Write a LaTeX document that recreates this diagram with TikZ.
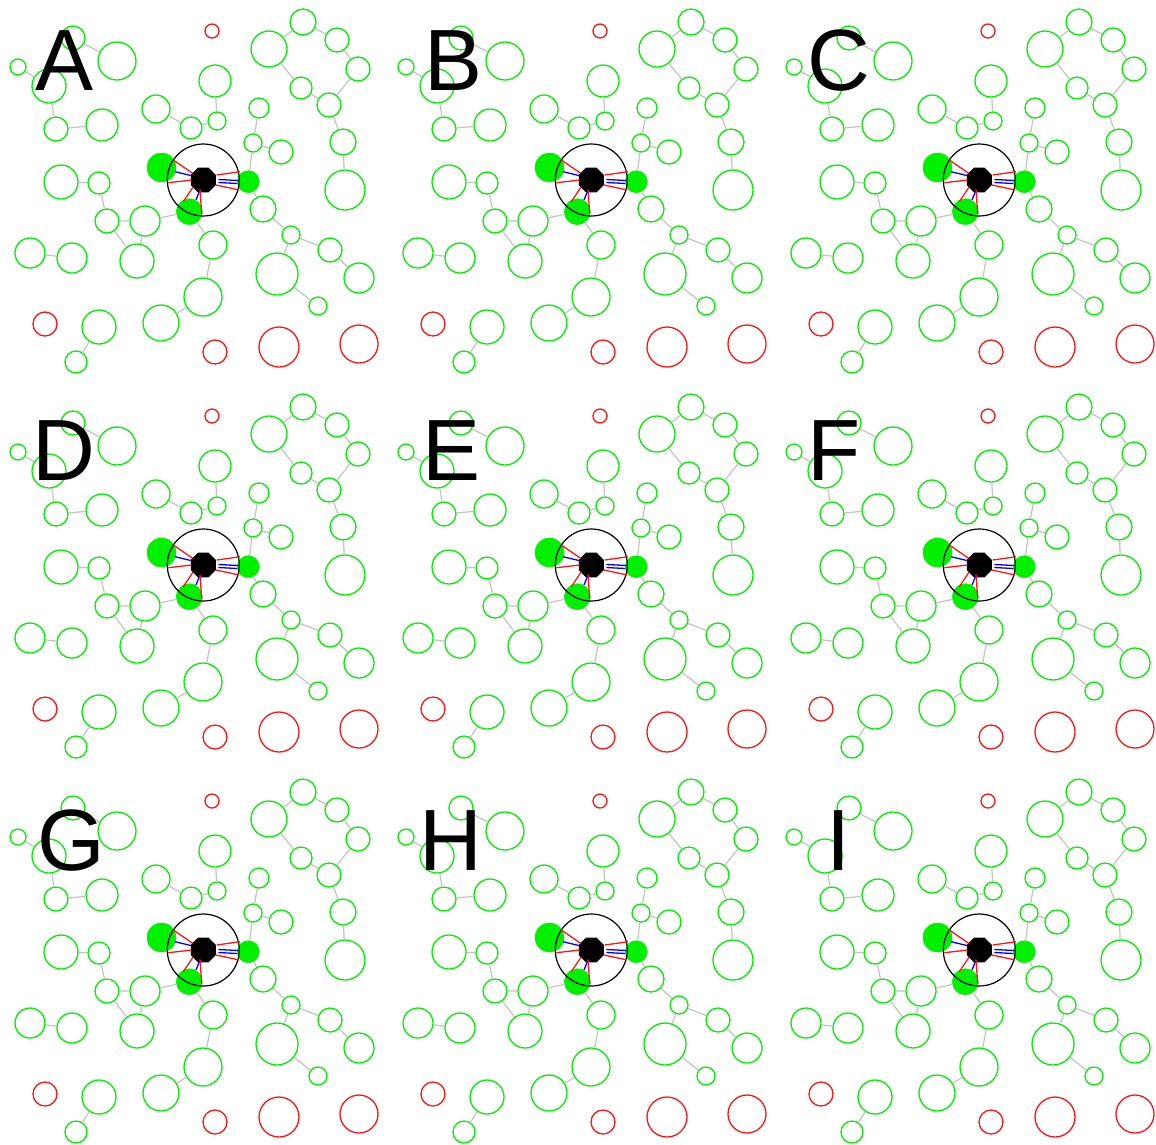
\documentclass[tikz,border=0pt]{standalone}
\usepackage{fontspec}
\setmainfont{Liberation Sans}
\usetikzlibrary{shapes.geometric}
\definecolor{ngreen}{RGB}{0,240,0}
\definecolor{nred}{RGB}{255,20,20}
\definecolor{egray}{RGB}{195,195,195}
\definecolor{sblue}{RGB}{0,0,255}
\tikzset{
  gn/.style={circle, draw=ngreen, line width=1.3pt, inner sep=0pt, minimum size=#1},
  rn/.style={circle, draw=nred, line width=1.3pt, inner sep=0pt, minimum size=#1},
  fn/.style={circle, fill=ngreen, draw=ngreen, line width=0.5pt, inner sep=0pt, minimum size=#1},
  octo/.style={regular polygon, regular polygon sides=8, fill=black, inner sep=0pt, minimum size=27pt},
  ring/.style={circle, draw=black, line width=1.2pt, inner sep=0pt, minimum size=72pt},
  edge/.style={draw=egray, line width=1.2pt},
  sred/.style={draw=nred, line width=1.3pt},
  sblu/.style={draw=sblue, line width=1.3pt},
  lab/.style={anchor=base, inner sep=0pt, font=\fontsize{87}{87}\selectfont}
}
\newcommand\netpanel[3]{%
\begin{scope}[shift={(#2,#3)}]
\node[gn=24pt] (#1n1) at (73,38) {};
\node[gn=38pt] (#1n2) at (117,61) {};
\node[gn=16pt] (#1n3) at (18,67) {};
\node[gn=34pt] (#1n4) at (49,86) {};
\node[gn=24pt] (#1n5) at (56,129) {};
\node[gn=32pt] (#1n6) at (102,125) {};
\node[gn=28pt] (#1n7) at (156,109) {};
\node[gn=22pt] (#1n8) at (191,128) {};
\node[gn=34pt] (#1n9) at (61,182) {};
\node[gn=22pt] (#1n10) at (99,183) {};
\node[gn=36pt] (#1n11) at (269,49) {};
\node[gn=26pt] (#1n12) at (303,22) {};
\node[gn=24pt] (#1n13) at (337,40) {};
\node[gn=24pt] (#1n14) at (358,69) {};
\node[gn=22pt] (#1n15) at (301,88) {};
\node[gn=24pt] (#1n16) at (329,105) {};
\node[gn=26pt] (#1n17) at (343,142) {};
\node[gn=40pt] (#1n18) at (345,190) {};
\node[gn=32pt] (#1n19) at (215,81) {};
\node[gn=18pt] (#1n20) at (217,121) {};
\node[gn=20pt] (#1n21) at (259,108) {};
\node[gn=18pt] (#1n22) at (253,143) {};
\node[gn=24pt] (#1n23) at (281,152) {};
\node[gn=24pt] (#1n24) at (107,221) {};
\node[gn=30pt] (#1n25) at (145,221) {};
\node[gn=34pt] (#1n26) at (137,261) {};
\node[gn=30pt] (#1n27) at (30,253) {};
\node[gn=30pt] (#1n28) at (72,258) {};
\node[gn=34pt] (#1n29) at (99,327) {};
\node[gn=22pt] (#1n30) at (76,362) {};
\node[gn=36pt] (#1n31) at (161,323) {};
\node[gn=38pt] (#1n32) at (203,297) {};
\node[gn=26pt] (#1n33) at (263,209) {};
\node[gn=18pt] (#1n34) at (291,235) {};
\node[gn=24pt] (#1n35) at (330,250) {};
\node[gn=30pt] (#1n36) at (359,278) {};
\node[gn=42pt] (#1n37) at (277,274) {};
\node[gn=18pt] (#1n38) at (318,306) {};
\node[gn=28pt] (#1n39) at (213,245) {};
\node[rn=14pt] (#1r1) at (212,31) {};
\node[rn=24pt] (#1r2) at (45,324) {};
\node[rn=24pt] (#1r3) at (215,352) {};
\node[rn=40pt] (#1r4) at (279,347) {};
\node[rn=38pt] (#1r5) at (359,344) {};
\node[fn=29pt] (#1f1) at (161.5,167.5) {};
\node[fn=22pt] (#1f2) at (248.3,181.7) {};
\node[fn=26pt] (#1f3) at (189.3,211.7) {};
\node[ring] (#1c) at (203.3,180) {};
\node[octo] (#1o) at (203.3,180) {};
\path[edge] (#1n1) -- (#1n2) (#1n3) -- (#1n4) (#1n4) -- (#1n5) (#1n5) -- (#1n6)
  (#1n7) -- (#1n8) (#1n9) -- (#1n10) (#1n10) -- (#1n24) (#1n24) -- (#1n25)
  (#1n24) -- (#1n26) (#1n25) -- (#1n26) (#1n25) -- (#1f3) (#1n27) -- (#1n28)
  (#1n29) -- (#1n30) (#1n31) -- (#1n32) (#1n32) -- (#1n39) (#1f3) -- (#1n39)
  (#1n11) -- (#1n12) (#1n12) -- (#1n13) (#1n13) -- (#1n14) (#1n14) -- (#1n16)
  (#1n11) -- (#1n15) (#1n15) -- (#1n16) (#1n16) -- (#1n17) (#1n17) -- (#1n18)
  (#1n19) -- (#1n20) (#1n20) -- (#1n8) (#1n21) -- (#1n22) (#1n22) -- (#1n23)
  (#1n22) -- (#1f2) (#1f2) -- (#1n33) (#1n33) -- (#1n34) (#1n34) -- (#1n35)
  (#1n35) -- (#1n36) (#1n34) -- (#1n37) (#1n37) -- (#1n38);
\path[sred] ([shift={(-30,-20)}]#1o.center) -- ([shift={(-10.6,-6.7)}]#1o.center);
\path[sblu] ([shift={(-28.3,-8.3)}]#1o.center) -- ([shift={(-11.6,-4.3)}]#1o.center);
\path[sred] ([shift={(-35,2.7)}]#1o.center) -- ([shift={(-11.6,0)}]#1o.center);
\path[sred] ([shift={(13.4,-5)}]#1o.center) -- ([shift={(36.7,-8.3)}]#1o.center);
\path[sblu] ([shift={(15,-0.5)}]#1o.center) -- ([shift={(35,0.5)}]#1o.center);
\path[sblu] ([shift={(15,2.5)}]#1o.center) -- ([shift={(34,3.5)}]#1o.center);
\path[sred] ([shift={(12.7,5)}]#1o.center) -- ([shift={(36,10)}]#1o.center);
\path[sred] ([shift={(-10,6.7)}]#1o.center) -- ([shift={(-20,21.7)}]#1o.center);
\path[sblu] ([shift={(-4,11.7)}]#1o.center) -- ([shift={(-7.3,20)}]#1o.center);
\path[sred] ([shift={(-3.3,9.3)}]#1o.center) -- ([shift={(-1.6,34)}]#1o.center);
\end{scope}}
\begin{document}
\begin{tikzpicture}[x=1pt,y=-1pt]
\fill[white] (0,0) rectangle (1156,1144);
\useasboundingbox (0,0) rectangle (1156,1144);
\netpanel{A}{0}{0}
\netpanel{B}{388}{0}
\netpanel{C}{776}{0}
\netpanel{D}{0}{385}
\netpanel{E}{388}{385}
\netpanel{F}{776}{385}
\netpanel{G}{0}{770}
\netpanel{H}{388}{770}
\netpanel{I}{776}{770}
\node[lab] (LA) at (65,90) {A};
\node[lab] (LB) at (454,90) {B};
\node[lab] (LC) at (839,90) {C};
\node[lab] (LD) at (64,480) {D};
\node[lab] (LE) at (452,480) {E};
\node[lab] (LF) at (834,480) {F};
\node[lab] (LG) at (71,870) {G};
\node[lab] (LH) at (451,870) {H};
\node[lab] (LI) at (839,870) {I};
\end{tikzpicture}
\end{document}
